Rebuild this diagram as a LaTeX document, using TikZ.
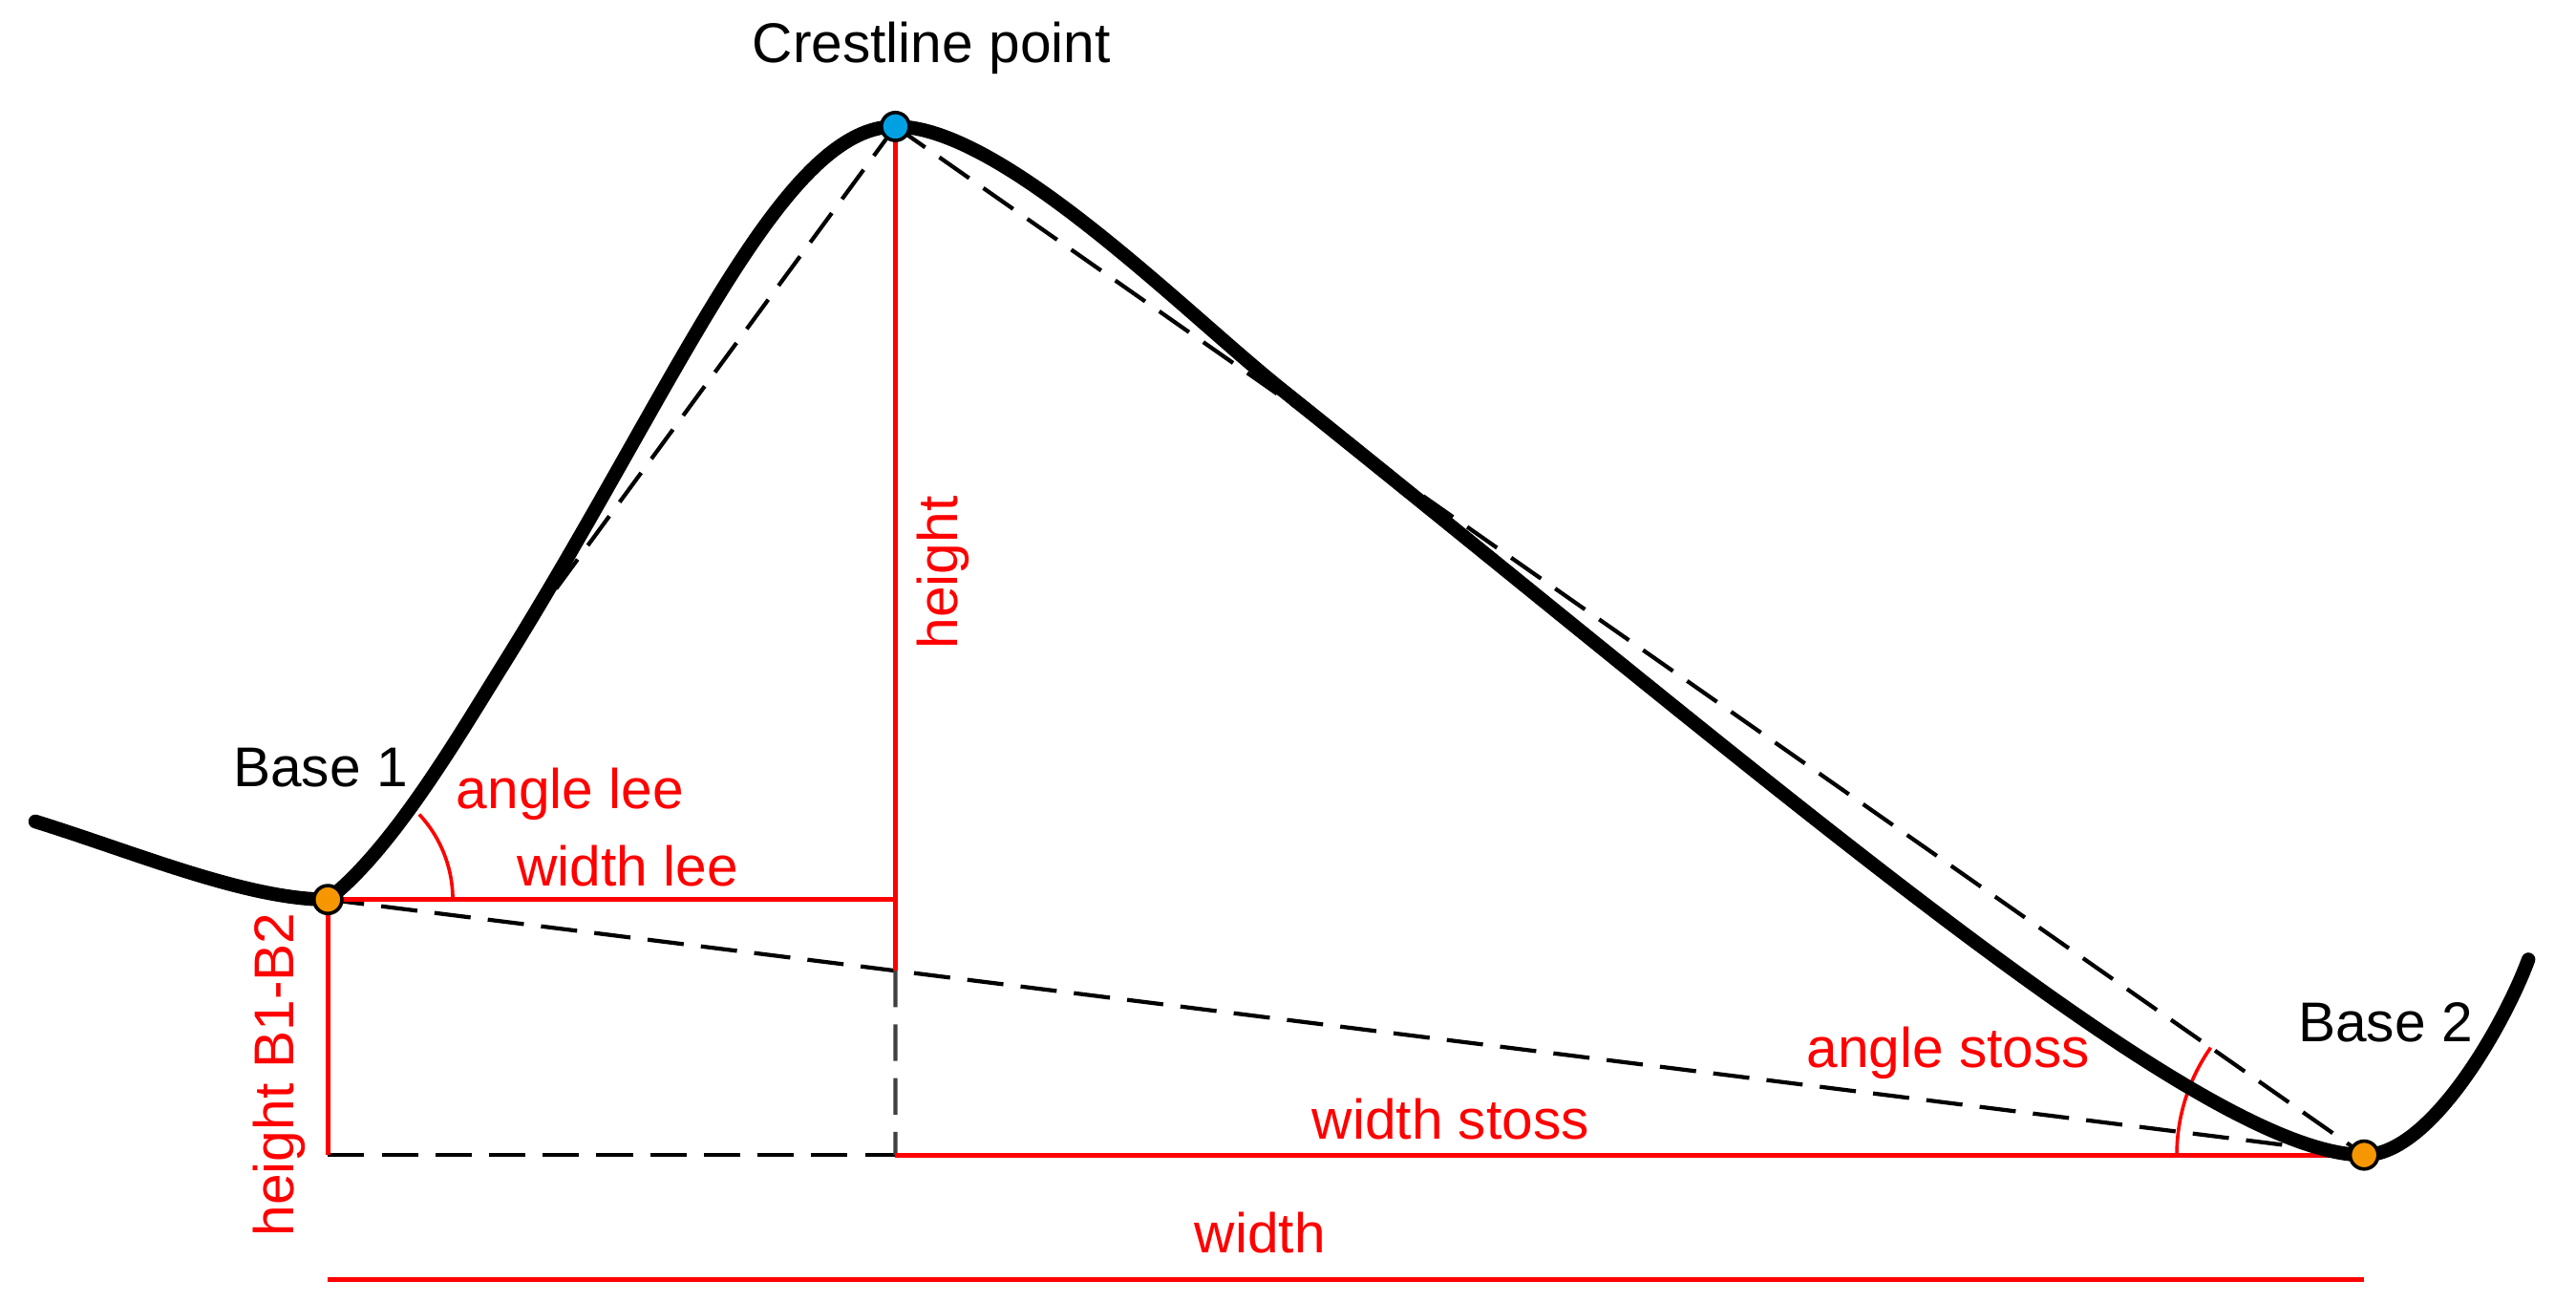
\documentclass[tikz,border=0pt]{standalone}
\usepackage{fontspec}
\setmainfont{Liberation Sans}
\usetikzlibrary{calc}
\definecolor{crestblue}{RGB}{0,160,227}
\definecolor{baseorange}{RGB}{246,150,0}
\definecolor{lblred}{RGB}{255,0,0}

\begin{document}
\begin{tikzpicture}[
	profile/.style={line width=2.4pt, line cap=round},
	guide/.style={line width=0.7pt, dash pattern=on 6.3pt off 3pt},
	measure/.style={lblred, line width=0.8pt},
	anglearc/.style={lblred, line width=0.6pt},
	marker/.style={circle, draw=black, line width=0.6pt, inner sep=0pt, minimum size=0.17cm},
	lbl/.style={font=\fontsize{9.7}{11}\selectfont, inner sep=0pt},
	redlbl/.style={lbl, text=lblred}
	]
	\useasboundingbox (0,0) rectangle (15.68,7.92);

	\coordinate (west) at (0.215,2.92);
	\coordinate (B1) at (1.996,2.445);
	\coordinate (crest) at (5.45,7.15);
	\coordinate (B2) at (14.39,0.89);
	\coordinate (east) at (15.39,2.08);

	\coordinate (leefoot) at ($(B1)!0.335!(crest)$);
	\coordinate (hfoot) at ($(B1)!0.2787!(B2)$);
	\coordinate (leeend) at (crest |- B1);
	\coordinate (lowleft) at (B1 |- B2);
	\coordinate (lowmid) at (crest |- B2);
	\coordinate (wl) at ($(lowleft)+(0,-0.76)$);
	\coordinate (wr) at ($(B2)+(0,-0.76)$);

	\draw [guide] (crest) -- (leefoot);
	\draw [guide] (crest) -- (B2);
	\draw [guide] (B1) -- (B2);
	\draw [guide] (lowleft) -- (lowmid);
	\draw [guide, black!75] (hfoot) -- (lowmid);

	\draw [measure] (crest) -- (hfoot);
	\draw [measure] (B1) -- (leeend);
	\draw [measure] (B1) -- (lowleft);
	\draw [measure] (lowmid) -- (B2);
	\draw [measure] (wl) -- (wr);

	\draw [anglearc] ($(B1)+(0.76,0)$) arc [start angle=0, end angle=43, radius=0.76];
	\draw [anglearc] ($(B2)+(-1.14,0)$) arc [start angle=180, end angle=145, radius=1.14];

	\draw [profile] (west) .. controls (0.815,2.734) and (1.5,2.445) .. (B1)
		.. controls (2.39,2.75) and (2.795,3.446) .. (3.06,3.87)
		.. controls (4.12,5.57) and (4.75,7.15) .. (crest)
		.. controls (6.1,7.15) and (7.2,6.03) .. (7.8,5.55)
		.. controls (10.8,3.15) and (13.39,0.89) .. (B2)
		.. controls (14.8,0.89) and (15.25,1.70) .. (east);

	\node [marker, fill=baseorange] (b1dot) at (B1) {};
	\node [marker, fill=baseorange] (b2dot) at (B2) {};
	\node [marker, fill=crestblue] (crestdot) at (crest) {};

	\node [lbl, anchor=base] (crestlbl) at (5.67,7.54) {Crestline point};
	\node [lbl, anchor=base] (b1lbl) at (1.95,3.135) {Base 1};
	\node [lbl, anchor=base] (b2lbl) at (14.52,1.58) {Base 2};
	\node [redlbl, anchor=base] (leeangle) at (3.47,3.0) {angle lee};
	\node [redlbl, anchor=base] (leewidth) at (3.82,2.53) {width lee};
	\node [redlbl, anchor=base, rotate=90] (heightlbl) at (5.83,4.435) {height};
	\node [redlbl, anchor=base, rotate=90] (b1b2lbl) at (1.79,1.38) {height B1-B2};
	\node [redlbl, anchor=base] (stossangle) at (11.86,1.42) {angle stoss};
	\node [redlbl, anchor=base] (stosswidth) at (8.83,0.984) {width stoss};
	\node [redlbl, anchor=base] (widthlbl) at (7.67,0.294) {width};
\end{tikzpicture}
\end{document}
